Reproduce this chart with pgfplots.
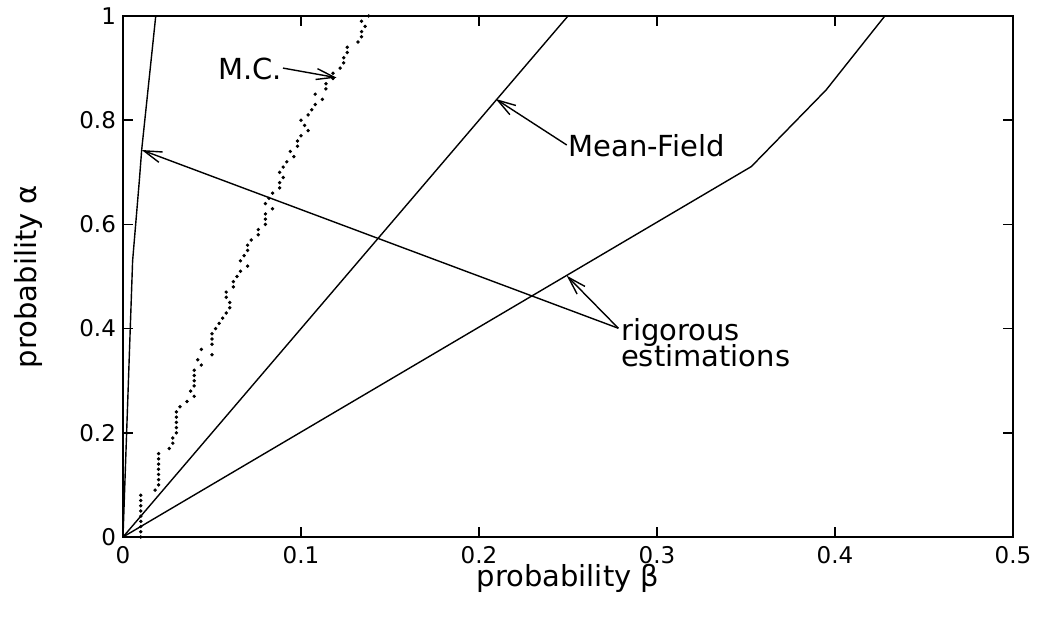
\documentclass[border=0pt]{standalone}
\usepackage{fontspec}
\setmainfont{DejaVu Sans}
\usepackage{pgfplots}
\usepackage{pgfplotstable}
\pgfplotsset{compat=1.18}
\usetikzlibrary{arrows.meta}

% Monte Carlo points (beta, alpha)
\pgfplotstableread{
b a
0.010 0.00
0.010 0.01
0.010 0.02
0.010 0.03
0.010 0.04
0.010 0.05
0.010 0.06
0.010 0.07
0.010 0.08
0.018 0.09
0.020 0.10
0.020 0.11
0.020 0.12
0.020 0.13
0.020 0.14
0.020 0.15
0.020 0.16
0.026 0.17
0.028 0.18
0.028 0.19
0.030 0.20
0.030 0.21
0.030 0.22
0.030 0.23
0.030 0.24
0.032 0.25
0.036 0.26
0.040 0.27
0.038 0.28
0.040 0.29
0.040 0.30
0.040 0.31
0.040 0.32
0.044 0.33
0.042 0.34
0.050 0.35
0.044 0.36
0.050 0.37
0.050 0.38
0.050 0.39
0.052 0.40
0.054 0.41
0.056 0.42
0.058 0.43
0.060 0.44
0.060 0.45
0.058 0.46
0.058 0.47
0.062 0.48
0.062 0.49
0.064 0.50
0.066 0.51
0.070 0.52
0.066 0.53
0.068 0.54
0.070 0.55
0.070 0.56
0.072 0.57
0.076 0.58
0.076 0.59
0.080 0.60
0.080 0.61
0.080 0.62
0.084 0.63
0.080 0.64
0.082 0.65
0.084 0.66
0.088 0.67
0.088 0.68
0.090 0.69
0.088 0.70
0.090 0.71
0.092 0.72
0.096 0.73
0.094 0.74
0.098 0.75
0.098 0.76
0.100 0.77
0.104 0.78
0.102 0.79
0.100 0.80
0.104 0.81
0.106 0.82
0.108 0.83
0.112 0.84
0.108 0.85
0.114 0.86
0.114 0.87
0.118 0.88
0.118 0.89
0.122 0.90
0.124 0.91
0.124 0.92
0.126 0.93
0.126 0.94
0.132 0.95
0.134 0.96
0.134 0.97
0.136 0.98
0.134 0.99
0.138 1.00
}\mcdata

\begin{document}
\begin{tikzpicture}
\begin{axis}[
    scale only axis,
    width=445pt, height=260.5pt,
    xmin=0, xmax=0.5, ymin=0, ymax=1,
    xtick={0,0.1,0.2,0.3,0.4,0.5},
    ytick={0,0.2,0.4,0.6,0.8,1},
    tick align=inside, tick pos=both,
    major tick length=5pt,
    axis line style={line width=1pt},
    every tick/.style={line width=0.8pt, black},
    /pgf/number format/assume math mode=true,
    tick label style={font=\fontsize{11.5}{13}\selectfont},
    xticklabel style={yshift=-1pt},
    label style={font=\fontsize{14.5}{17}\selectfont},
    xlabel={probability β},
    ylabel={probability α},
    xlabel style={at={(axis description cs:0.5,0)}, anchor=base, yshift=-25pt},
    ylabel style={at={(axis description cs:0,0.5)}, anchor=base, yshift=43pt},
    clip=false,
]
% rigorous estimation, steep
\addplot[black, line width=0.7pt] coordinates {
    (0,0)(0.0054,0.53)(0.0092,0.685)(0.0105,0.743)(0.0184,1.0)
};
% Mean-Field
\addplot[black, line width=0.7pt] coordinates {
    (0,0)(0.25,1.0)
};
% rigorous estimation, shallow
\addplot[black, line width=0.7pt] coordinates {
    (0,0)(0.353,0.711)(0.395,0.858)(0.428,1.0)
};
% Monte Carlo
\addplot[black, only marks, mark=*, mark size=0.65pt] table[x=b, y=a] {\mcdata};

% annotations
\tikzset{ann/.style={line width=0.7pt, -{Straight Barb[length=9pt, width=5.5pt, line width=0.7pt]}}}
\draw[ann] (axis cs:0.0899,0.900) -- (axis cs:0.120,0.8816);
\draw[ann] (axis cs:0.2493,0.7524) -- (axis cs:0.2094,0.8407);
\draw[ann] (axis cs:0.2783,0.4006) -- (axis cs:0.0105,0.7428);
\draw[ann] (axis cs:0.2783,0.4006) -- (axis cs:0.2493,0.5015);
\node[font=\fontsize{14.5}{17}\selectfont, anchor=base east, inner sep=0pt]
    at (axis cs:0.0895,0.879) {M.C.};
\node[font=\fontsize{14.5}{17}\selectfont, anchor=base west, inner sep=0pt]
    at (axis cs:0.250,0.730) {Mean-Field};
\node[font=\fontsize{14.5}{17}\selectfont, anchor=base west, inner sep=0pt]
    at (axis cs:0.2796,0.378) {rigorous};
\node[font=\fontsize{14.5}{17}\selectfont, anchor=base west, inner sep=0pt]
    at (axis cs:0.2796,0.328) {estimations};
\end{axis}
\path ([shift={(-61.5pt,-41pt)}]current axis.south west)
    rectangle ([shift={(12.5pt,8pt)}]current axis.north east);
\end{tikzpicture}
\end{document}
